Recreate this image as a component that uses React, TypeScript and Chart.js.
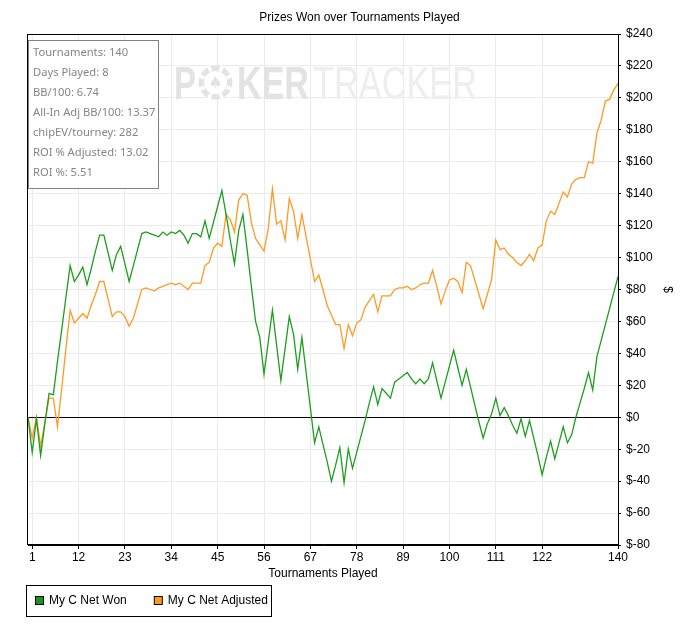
import React, { useEffect, useRef } from "react";
import { Chart, registerables } from "chart.js";

Chart.register(...registerables);

const chartTitle = "Prizes Won over Tournaments Played";
const xTitle = "Tournaments Played";
const yTitle = "$";
const xTickValues = [1, 12, 23, 34, 45, 56, 67, 78, 89, 100, 111, 122, 140];
const tournaments = Array.from({ length: 141 }, (_, i) => i);

// t0 .. t140
const netWon = [
  0, -22, -1, -24, -4, 15, 14, 35, 55, 75, 95,
  85, 89, 94, 83, 93, 104, 114, 114, 103, 92,
  102, 107, 96, 85, 95, 105, 115, 116, 115, 114,
  113, 116, 114, 116, 115, 117, 114, 109, 115, 115,
  113, 123, 112, 122, 132, 142, 127, 111, 96, 117,
  127, 105, 82, 60, 50, 27, 47, 67, 45, 23,
  43, 63, 52, 30, 50, 28, 6, -16, -6, -17,
  -28, -40, -30, -19, -41, -20, -32, -22, -12, -2,
  9, 19, 8, 18, 15, 12, 22, 24, 26, 28,
  24, 21, 24, 21, 24, 34, 23, 12, 22, 32,
  42, 31, 20, 30, 19, 8, -3, -13, -4, 2,
  12, 1, 6, 1, -5, -10, -1, -12, -2, -13,
  -24, -36, -25, -15, -26, -16, -6, -16, -11, 0,
  9, 18, 28, 17, 38, 48, 58, 68, 78, 88,
];

const netAdjusted = [
  0, -13, 0, -18, -3, 12, 12, -6, 18, 43, 67,
  59, 62, 65, 62, 70, 77, 85, 85, 74, 63,
  66, 66, 63, 57, 62, 71, 80, 81, 80, 79,
  81, 82, 83, 84, 83, 84, 82, 80, 84, 84,
  84, 95, 97, 106, 109, 107, 127, 124, 116, 136,
  140, 139, 122, 112, 108, 104, 118, 143, 121, 123,
  111, 137, 129, 112, 127, 113, 99, 85, 89, 80,
  70, 64, 58, 58, 43, 58, 51, 59, 61, 69,
  73, 77, 66, 76, 76, 76, 80, 81, 81, 82,
  80, 81, 83, 84, 84, 92, 82, 71, 79, 86,
  87, 85, 78, 97, 95, 86, 77, 68, 77, 86,
  111, 105, 106, 102, 100, 97, 95, 98, 102, 98,
  106, 108, 123, 129, 127, 134, 141, 138, 146, 149,
  150, 150, 160, 159, 178, 186, 198, 199, 205, 209,
];

const seriesNames = ["My C Net Won", "My C Net Adjusted"];
const seriesColors = ["#1d9e1d", "#ff9a22"];
const legendColors = ["#139913", "#ff9a1a"];

const statsLines = [
  "Tournaments: 140",
  "Days Played: 8",
  "BB/100: 6.74",
  "All-In Adj BB/100: 13.37",
  "chipEV/tourney: 282",
  "ROI % Adjusted: 13.02",
  "ROI %: 5.51",
];

const FONT = '"Liberation Sans", Arial, sans-serif';

function drawWatermark(ctx: CanvasRenderingContext2D) {
  const base = 99;
  const fit = (text: string, x: number, w: number, font: string, color: string) => {
    ctx.font = font;
    ctx.fillStyle = color;
    const m = ctx.measureText(text).width;
    ctx.save();
    ctx.translate(x, base);
    ctx.scale(w / m, 1);
    ctx.fillText(text, 0, 0);
    ctx.restore();
  };
  ctx.save();
  ctx.textBaseline = "alphabetic";
  fit("P", 174, 22, `bold 46px ${FONT}`, "#e3e3e3");
  // chip in place of the O
  const cx = 215.5, cy = 82.5, r = 17;
  ctx.fillStyle = "#e3e3e3";
  ctx.beginPath();
  ctx.arc(cx, cy, r, 0, Math.PI * 2);
  ctx.fill();
  ctx.strokeStyle = "#ffffff";
  ctx.lineWidth = 3.5;
  for (let i = 0; i < 8; i++) {
    const a = (i * Math.PI) / 4 + Math.PI / 8;
    ctx.beginPath();
    ctx.moveTo(cx + Math.cos(a) * (r - 5), cy + Math.sin(a) * (r - 5));
    ctx.lineTo(cx + Math.cos(a) * (r + 1), cy + Math.sin(a) * (r + 1));
    ctx.stroke();
  }
  ctx.fillStyle = "#ffffff";
  ctx.beginPath();
  ctx.arc(cx, cy, r - 5.5, 0, Math.PI * 2);
  ctx.fill();
  ctx.fillStyle = "#e3e3e3";
  ctx.font = `16px "DejaVu Sans"`;
  ctx.textAlign = "center";
  ctx.textBaseline = "middle";
  ctx.fillText("\u2660", cx, cy + 1);
  ctx.textAlign = "left";
  ctx.textBaseline = "alphabetic";
  fit("KER", 237, 72, `bold 46px ${FONT}`, "#e3e3e3");
  fit("TRACKER", 313, 164, `46px ${FONT}`, "#eeeeee");
  ctx.restore();
}

const decorations = {
  id: "decorations",
  beforeDatasetsDraw(chart: Chart) {
    drawWatermark(chart.ctx);
  },
  afterDraw(chart: Chart) {
    const { ctx, chartArea: a } = chart;
    ctx.save();
    // plot frame
    ctx.strokeStyle = "#000";
    ctx.lineWidth = 1;
    ctx.strokeRect(
      Math.round(a.left) - 0.5,
      Math.round(a.top) + 0.5,
      Math.round(a.right - a.left) + 1,
      Math.round(a.bottom - a.top) - 1
    );

    // stats box
    ctx.fillStyle = "#ffffff";
    ctx.fillRect(28, 41, 130, 148);
    ctx.strokeStyle = "#808080";
    ctx.strokeRect(28.5, 40.5, 130, 148);
    ctx.fillStyle = "#858585";
    ctx.font = '11.2px "Noto Sans"';
    ctx.textBaseline = "middle";
    ctx.textAlign = "left";
    statsLines.forEach((line, i) => {
      ctx.fillText(line, 33, 53 + i * 19.9);
    });

    // legend
    ctx.font = `12px ${FONT}`;
    let x = 35;
    const y = 601;
    let right = x;
    chart.data.datasets.forEach((ds, i) => {
      ctx.fillStyle = legendColors[i];
      ctx.fillRect(x + 0.5, y - 4.5, 8, 8);
      ctx.strokeStyle = "#000";
      ctx.strokeRect(x + 0.5, y - 4.5, 8, 8);
      ctx.fillStyle = "#000";
      const label = String(ds.label);
      ctx.fillText(label, x + 14, y);
      right = x + 14 + ctx.measureText(label).width;
      x = right + 27;
    });
    ctx.strokeStyle = "#000";
    ctx.strokeRect(26.5, 585.5, Math.round(right + 3 - 26), 31);
    ctx.restore();
  },
};

const App = () => {
  const canvasRef = useRef<HTMLCanvasElement>(null);

  useEffect(() => {
    if (!canvasRef.current) return;
    Chart.defaults.font.family = FONT;
    Chart.defaults.font.size = 12;
    Chart.defaults.color = "#000";

    const chart = new Chart(canvasRef.current, {
      type: "line",
      data: {
        datasets: [
          {
            label: seriesNames[0],
            data: tournaments.map((t, i) => ({ x: t, y: netWon[i] })),
            borderColor: seriesColors[0],
            backgroundColor: seriesColors[0],
            borderWidth: 1.3,
            pointRadius: 0,
            tension: 0,
          },
          {
            label: seriesNames[1],
            data: tournaments.map((t, i) => ({ x: t, y: netAdjusted[i] })),
            borderColor: seriesColors[1],
            backgroundColor: seriesColors[1],
            borderWidth: 1.3,
            pointRadius: 0,
            tension: 0,
          },
        ],
      },
      options: {
        animation: false,
        responsive: true,
        maintainAspectRatio: false,
        layout: { padding: { left: 28, right: 0, top: 0, bottom: 45 } },
        plugins: {
          legend: { display: false },
          tooltip: { enabled: false },
          title: {
            display: true,
            text: chartTitle,
            color: "#000",
            font: { size: 12, weight: "normal" },
            padding: { top: 10, bottom: 9.6 },
          },
        },
        scales: {
          x: {
            type: "linear",
            min: 0,
            max: 140,
            afterBuildTicks: (s: any) => {
              s.ticks = xTickValues.map((v) => ({ value: v }));
            },
            afterFit: (s: any) => {
              s.height = 40;
            },
            ticks: {
              autoSkip: false,
              maxRotation: 0,
              padding: 1,
              color: "#000",
              callback: (v: any) => String(v),
            },
            grid: { color: "#ebebeb", tickColor: "#000", tickLength: 4 },
            border: { color: "#000" },
            title: {
              display: true,
              text: xTitle,
              color: "#000",
              padding: { top: 0, bottom: 4 },
            },
          },
          y: {
            position: "right",
            min: -80,
            max: 240,
            afterFit: (s: any) => {
              s.width = 73;
            },
            ticks: {
              stepSize: 20,
              padding: 5,
              color: "#000",
              callback: (v: any) => "$" + v,
            },
            grid: {
              color: (c: any) => (c.tick && c.tick.value === 0 ? "#000" : "#ebebeb"),
              tickColor: "#000",
              tickLength: 3,
            },
            border: { color: "#000" },
            title: {
              display: true,
              text: yTitle,
              color: "#000",
              padding: { top: 16, bottom: 0 },
            },
          },
        },
      },
      plugins: [decorations],
    });

    return () => {
      chart.destroy();
    };
  }, []);

  return (
    <div style={{ position: "absolute", left: 0, top: 0, width: 691, height: 630, background: "#fff" }}>
      <canvas ref={canvasRef} />
    </div>
  );
};

export default App;
